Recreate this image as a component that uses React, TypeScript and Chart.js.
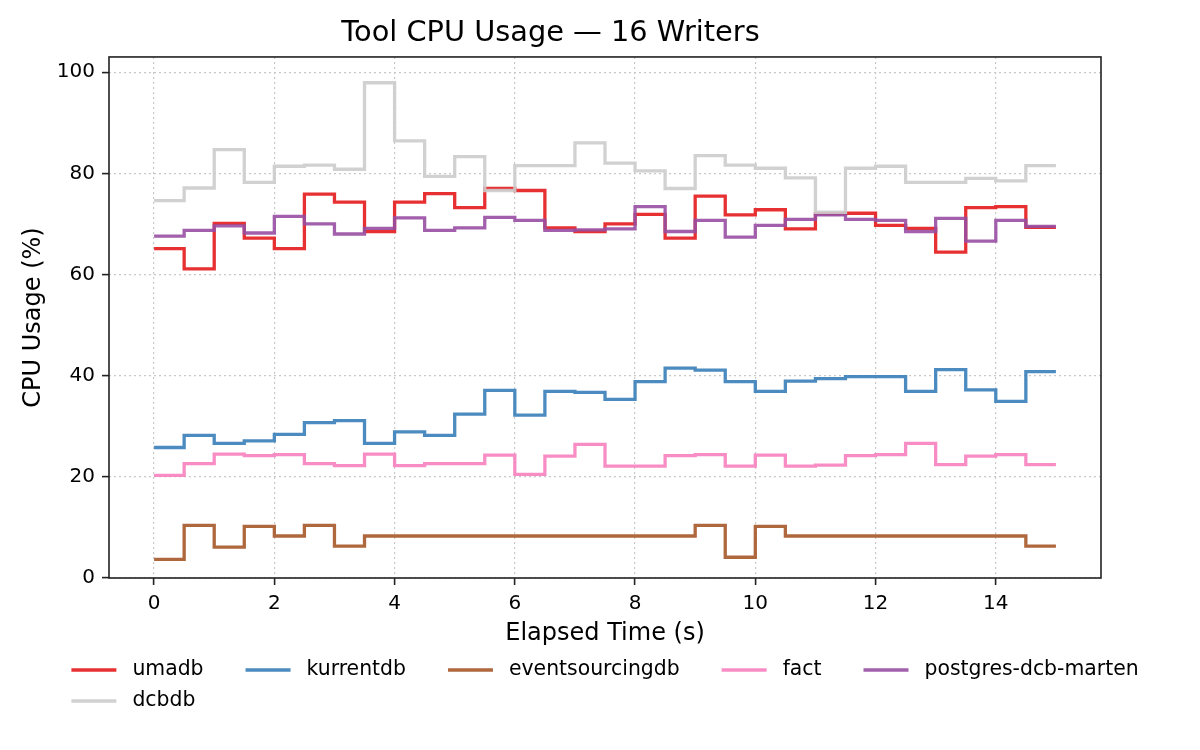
import { useEffect, useRef } from 'react';
import { Chart, registerables } from 'chart.js';

Chart.register(...registerables);

const TITLE = 'Tool CPU Usage — 16 Writers';
const X_LABEL = 'Elapsed Time (s)';
const Y_LABEL = 'CPU Usage (%)';

const times = [0, 0.5, 1, 1.5, 2, 2.5, 3, 3.5, 4, 4.5, 5, 5.5, 6, 6.5, 7, 7.5, 8, 8.5, 9, 9.5, 10, 10.5, 11, 11.5, 12, 12.5, 13, 13.5, 14, 14.5, 15];
const xTicks = [0, 2, 4, 6, 8, 10, 12, 14];
const yTicks = [0, 20, 40, 60, 80, 100];

const seriesNames = ['umadb', 'kurrentdb', 'eventsourcingdb', 'fact', 'postgres-dcb-marten', 'dcbdb'];
const seriesColors = [
  'rgba(228,26,28,0.9)',
  'rgba(55,126,184,0.9)',
  'rgba(166,86,40,0.9)',
  'rgba(247,129,191,0.9)',
  'rgba(152,78,163,0.9)',
  'rgba(204,204,204,0.9)',
];

const umadb = [65.1, 61.1, 70.1, 67.2, 65.1, 75.9, 74.3, 68.5, 74.3, 76.0, 73.2, 77.0, 76.6, 69.2, 68.5, 70.0, 71.9, 67.2, 75.5, 71.8, 72.8, 69.0, 72.0, 72.1, 69.7, 69.1, 64.4, 73.2, 73.4, 69.3, 69.3];
const kurrentdb = [25.8, 28.2, 26.6, 27.1, 28.4, 30.7, 31.1, 26.6, 28.9, 28.2, 32.4, 37.1, 32.2, 36.9, 36.7, 35.3, 38.8, 41.5, 41.1, 38.8, 36.9, 38.9, 39.4, 39.8, 39.8, 36.9, 41.2, 37.2, 34.9, 40.8, 40.8];
const eventsourcingdb = [3.7, 10.4, 6.1, 10.2, 8.3, 10.4, 6.3, 8.3, 8.3, 8.3, 8.3, 8.3, 8.3, 8.3, 8.3, 8.3, 8.3, 8.3, 10.4, 4.1, 10.2, 8.3, 8.3, 8.3, 8.3, 8.3, 8.3, 8.3, 8.3, 6.3, 6.3];
const fact = [20.3, 22.6, 24.5, 24.2, 24.4, 22.6, 22.2, 24.5, 22.2, 22.6, 22.6, 24.3, 20.5, 24.1, 26.4, 22.1, 22.1, 24.2, 24.4, 22.1, 24.3, 22.1, 22.3, 24.2, 24.4, 26.6, 22.4, 24.1, 24.4, 22.4, 22.4];
const postgresDcbMarten = [67.6, 68.7, 69.6, 68.2, 71.5, 70.0, 68.0, 69.1, 71.2, 68.7, 69.2, 71.3, 70.7, 68.7, 68.8, 69.0, 73.4, 68.5, 70.7, 67.4, 69.7, 70.9, 71.8, 70.9, 70.7, 68.5, 71.1, 66.6, 70.7, 69.5, 69.5];
const dcbdb = [74.6, 77.1, 84.7, 78.2, 81.4, 81.6, 80.8, 97.9, 86.4, 79.4, 83.3, 76.6, 81.5, 81.5, 86.0, 82.0, 80.5, 77.0, 83.5, 81.6, 81.0, 79.1, 72.3, 81.0, 81.4, 78.2, 78.2, 79.0, 78.5, 81.5, 81.5];

const seriesValues = [umadb, kurrentdb, eventsourcingdb, fact, postgresDcbMarten, dcbdb];

const FONT = '"DejaVu Sans", "Noto Sans", sans-serif';
const LEGEND_FONT_SIZE = 20.4;
const LEGEND_COLS = 5;

const framePlugin = {
  id: 'frame',
  afterDatasetsDraw(chart: any) {
    const { ctx, chartArea } = chart;
    ctx.save();
    ctx.strokeStyle = '#222222';
    ctx.lineWidth = 1.6;
    ctx.strokeRect(chartArea.left, chartArea.top, chartArea.right - chartArea.left, chartArea.bottom - chartArea.top);
    ctx.restore();
  },
};

const legendPlugin = {
  id: 'mplLegend',
  afterDraw(chart: any) {
    const { ctx, chartArea } = chart;
    const ds = chart.data.datasets;
    ctx.save();
    ctx.font = `${LEGEND_FONT_SIZE}px ${FONT}`;
    const handle = 45;
    const pad = 16;
    const spacing = 42;
    const widths = new Array(LEGEND_COLS).fill(0);
    ds.forEach((d: any, i: number) => {
      const c = i % LEGEND_COLS;
      widths[c] = Math.max(widths[c], ctx.measureText(d.label).width);
    });
    const total = widths.reduce((s: number, w: number) => s + handle + pad + w, 0) + spacing * (LEGEND_COLS - 1);
    const colX: number[] = [];
    let acc = (chartArea.left + chartArea.right) / 2 - total / 2;
    for (let c = 0; c < LEGEND_COLS; c++) {
      colX.push(acc);
      acc += handle + pad + widths[c] + spacing;
    }
    ds.forEach((d: any, i: number) => {
      const r = Math.floor(i / LEGEND_COLS);
      const c = i % LEGEND_COLS;
      const y = chartArea.bottom + 92 + r * 31;
      const x = colX[c];
      ctx.strokeStyle = d.borderColor;
      ctx.lineWidth = d.borderWidth;
      ctx.beginPath();
      ctx.moveTo(x, y);
      ctx.lineTo(x + handle, y);
      ctx.stroke();
      ctx.fillStyle = '#000000';
      ctx.textAlign = 'left';
      ctx.textBaseline = 'middle';
      ctx.fillText(d.label, x + handle + pad, y);
    });
    ctx.restore();
  },
};

export default function App() {
  const canvasRef = useRef<HTMLCanvasElement | null>(null);

  useEffect(() => {
    if (!canvasRef.current) return;
    Chart.defaults.font.family = FONT;
    Chart.defaults.color = '#000000';

    const datasets = seriesNames.map((name, i) => ({
      label: name,
      data: times.map((t, j) => ({ x: t, y: seriesValues[i][j] })),
      borderColor: seriesColors[i],
      backgroundColor: seriesColors[i],
      borderWidth: 3.3,
      pointRadius: 0,
      pointHoverRadius: 0,
      stepped: 'before' as const,
      fill: false,
      order: seriesNames.length - i,
    }));

    const chart = new Chart(canvasRef.current, {
      type: 'line',
      data: { datasets },
      plugins: [framePlugin, legendPlugin],
      options: {
        animation: false,
        responsive: false,
        events: [],
        layout: { padding: { left: 0, right: 99, top: 0, bottom: 92 } },
        plugins: {
          legend: { display: false },
          tooltip: { enabled: false },
          title: {
            display: true,
            text: TITLE,
            color: '#000000',
            font: { size: 28.8, weight: 'normal', family: FONT },
            padding: { top: 16.1, bottom: 6.3 },
          },
        },
        scales: {
          x: {
            type: 'linear',
            min: -0.75,
            max: 15.75,
            afterBuildTicks: (axis: any) => {
              axis.ticks = xTicks.map((v) => ({ value: v }));
            },
            afterFit: (axis: any) => {
              axis.height = 80;
            },
            ticks: {
              font: { size: 20, family: FONT },
              color: '#000000',
              padding: 7,
              maxRotation: 0,
              autoSkip: false,
              callback: (v: any) => String(v),
            },
            grid: {
              color: '#c8c8c8',
              lineWidth: 1.2,
              drawTicks: true,
              tickLength: 7,
              tickColor: '#222222',
              tickWidth: 1.6,
              tickBorderDash: [],
            },
            border: { display: false, dash: [2, 3] },
            title: {
              display: true,
              text: X_LABEL,
              color: '#000000',
              font: { size: 24, family: FONT },
              padding: { top: 0, bottom: 10 },
            },
          },
          y: {
            type: 'linear',
            min: 0,
            max: 103,
            afterBuildTicks: (axis: any) => {
              axis.ticks = yTicks.map((v) => ({ value: v }));
            },
            afterFit: (axis: any) => {
              axis.width = 109;
            },
            ticks: {
              font: { size: 20, family: FONT },
              color: '#000000',
              padding: 7,
              autoSkip: false,
              callback: (v: any) => String(v),
            },
            grid: {
              color: '#c8c8c8',
              lineWidth: 1.2,
              drawTicks: true,
              tickLength: 7,
              tickColor: '#222222',
              tickWidth: 1.6,
              tickBorderDash: [],
            },
            border: { display: false, dash: [2, 3] },
            title: {
              display: true,
              text: Y_LABEL,
              color: '#000000',
              font: { size: 24, family: FONT },
              padding: { top: 19.6, bottom: 0 },
            },
          },
        },
      },
    } as any);

    return () => {
      chart.destroy();
    };
  }, []);

  return (
    <div style={{ position: 'absolute', left: 0, top: 0, width: 1200, height: 750, background: '#ffffff' }}>
      <canvas ref={canvasRef} width={1200} height={750} style={{ width: 1200, height: 750, display: 'block' }} />
    </div>
  );
}
